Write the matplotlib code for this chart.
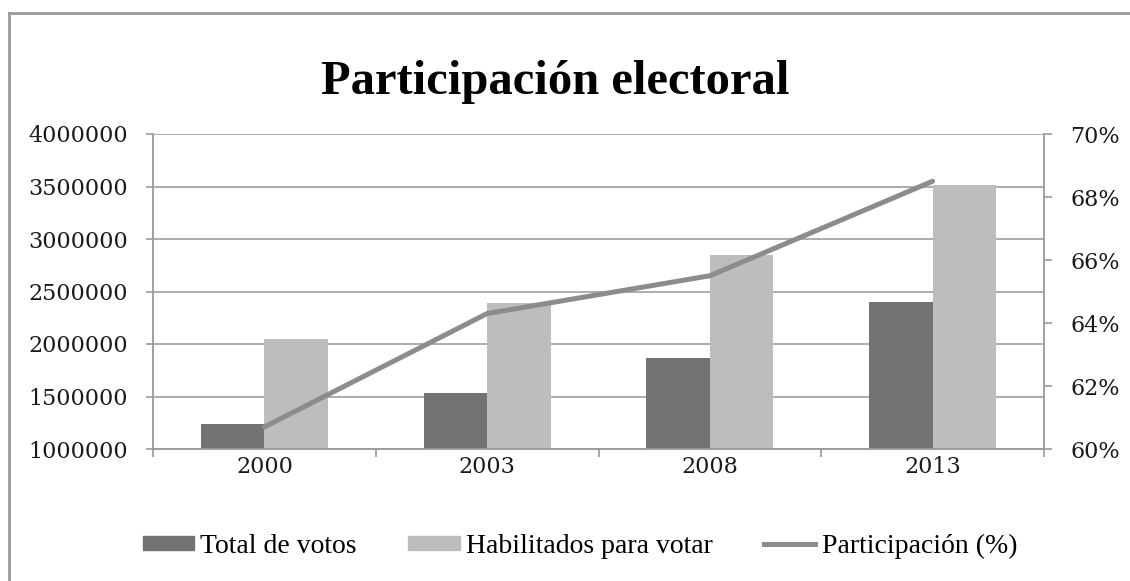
import matplotlib
matplotlib.use("Agg")
import matplotlib.pyplot as plt
import numpy as np
from matplotlib.ticker import FuncFormatter, FixedLocator
from matplotlib.patches import Patch
from matplotlib.lines import Line2D

# data
years = ["2000", "2003", "2008", "2013"]
total_votos = [1234000, 1532000, 1865000, 2404000]
habilitados = [2051000, 2394000, 2849000, 3516000]
participacion = [0.607, 0.643, 0.655, 0.685]

dark = "#737373"
light = "#bdbdbd"
linec = "#8c8c8c"
gridc = "#a6a6a6"

fig = plt.figure(figsize=(11.3, 5.81), dpi=100)
ax = fig.add_axes([153 / 1130, 1 - 449 / 581, (1044 - 153) / 1130, (449 - 134) / 581])

x = np.arange(len(years))
w = 0.285
ax.bar(x - w / 2, total_votos, w, color=dark, zorder=2)
ax.bar(x + w / 2, habilitados, w, color=light, zorder=2)

ax.set_xlim(-0.5, 3.5)
ax.set_ylim(1000000, 4000000)
ax.set_yticks(np.arange(1000000, 4000001, 500000))
ax.yaxis.set_major_formatter(FuncFormatter(lambda v, p: "%d" % v))
ax.grid(axis="y", color=gridc, linewidth=1.3, zorder=0)
ax.set_axisbelow(True)

ax.set_xticks(x)
ax.set_xticklabels(years)
ax.xaxis.set_minor_locator(FixedLocator(np.arange(-0.5, 3.6, 1)))
ax.tick_params(axis="x", which="major", length=0, pad=5)
ax.tick_params(axis="x", which="minor", length=6, width=1.2, color="#999999")
ax.tick_params(axis="y", length=5, width=1.2, color="#999999", pad=13)
for s in ["top", "right"]:
    ax.spines[s].set_visible(False)
for s in ["left", "bottom"]:
    ax.spines[s].set_color("#999999")
    ax.spines[s].set_linewidth(1.3)

ax2 = ax.twinx()
ax2.plot(x, participacion, color=linec, linewidth=3.6, solid_capstyle="round")
ax2.set_ylim(0.60, 0.70)
ax2.set_yticks(np.arange(0.60, 0.7001, 0.02))
ax2.yaxis.set_major_formatter(FuncFormatter(lambda v, p: "%d%%" % round(v * 100)))
ax2.tick_params(axis="y", length=6, width=1.2, color="#999999", pad=13)
for s in ["top", "left", "bottom"]:
    ax2.spines[s].set_visible(False)
ax2.spines["right"].set_color("#999999")
ax2.spines["right"].set_linewidth(1.3)

for lab in ax.get_xticklabels() + ax.get_yticklabels() + ax2.get_yticklabels():
    lab.set_fontfamily("DejaVu Serif")
    lab.set_fontsize(16)
    lab.set_color("#1a1a1a")

fig.text(555 / 1130, 1 - 94 / 581, "Participación electoral", ha="center", va="baseline",
         fontsize=35, fontweight="bold", family="Liberation Serif")

handles = [Patch(color=dark), Patch(color=light), Line2D([0], [0], color=linec, linewidth=3.6)]
labels = ["Total de votos", "Habilitados para votar", "Participación (%)"]
fig.legend(handles, labels, loc="center", bbox_to_anchor=(580 / 1130, 1 - 546 / 581), ncol=3,
           frameon=False, prop={"family": "Liberation Serif", "size": 20},
           handlelength=1.85, handleheight=0.4, handletextpad=0.22, columnspacing=1.85)

# chart frame (only top and left visible)
fig.add_artist(Line2D([9 / 1130, 9 / 1130], [0, 1 - 13 / 581], color="#999999", linewidth=2))
fig.add_artist(Line2D([9 / 1130, 1], [1 - 13 / 581, 1 - 13 / 581], color="#999999", linewidth=2))

fig.savefig("out.png", dpi=100)
